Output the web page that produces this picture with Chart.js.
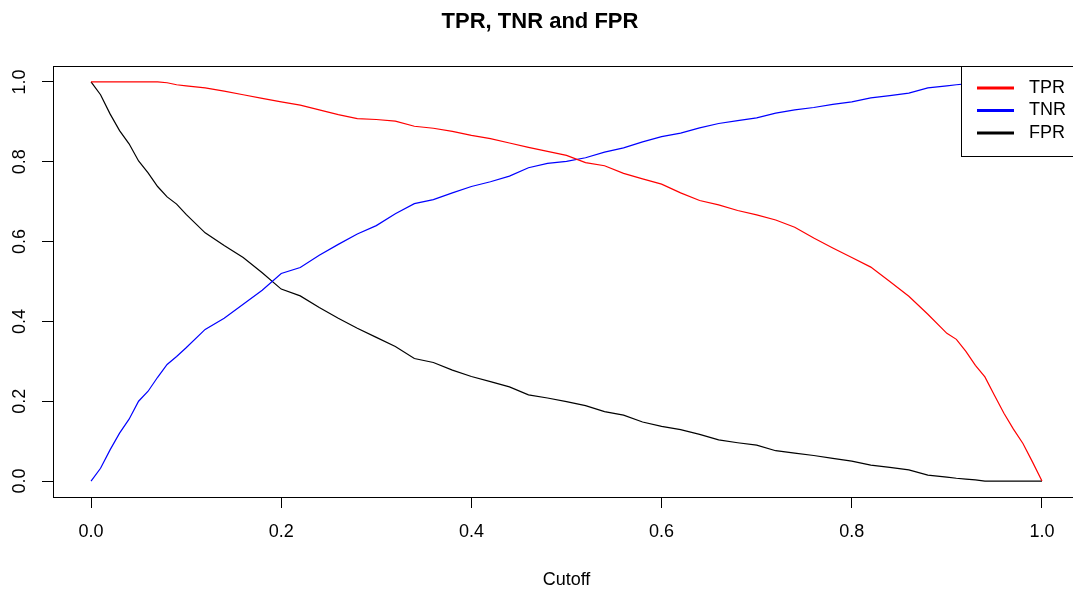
<!DOCTYPE html>
<html>
<head>
<meta charset="utf-8">
<title>TPR, TNR and FPR</title>
<script src="https://cdn.jsdelivr.net/npm/chart.js@4.4.1/dist/chart.umd.min.js"></script>
<style>
  html, body { margin: 0; padding: 0; background: #fff; overflow: hidden; }
  #wrap { width: 1073px; height: 591px; overflow: hidden; }
</style>
</head>
<body>
<div id="wrap"><canvas id="myChart" width="1080" height="591"></canvas></div>
<script>
// cutoff values and the three rates
const cutoff = [0, 0.01, 0.02, 0.03, 0.04, 0.05, 0.06, 0.07, 0.08, 0.09,
  0.10, 0.12, 0.14, 0.16, 0.18, 0.20, 0.22, 0.24, 0.26, 0.28,
  0.30, 0.32, 0.34, 0.36, 0.38, 0.40, 0.42, 0.44, 0.46, 0.48,
  0.50, 0.52, 0.54, 0.56, 0.58, 0.60, 0.62, 0.64, 0.66, 0.68,
  0.70, 0.72, 0.74, 0.76, 0.78, 0.80, 0.82, 0.84, 0.86, 0.88,
  0.90, 0.91, 0.92, 0.93, 0.94, 0.95, 0.96, 0.97, 0.98, 0.99, 1.00]

const tpr = [1, 1, 1, 1, 1, 1, 1, 1, 0.998, 0.993,
  0.990, 0.985, 0.977, 0.968, 0.959, 0.950, 0.942, 0.930, 0.918, 0.908,
  0.906, 0.902, 0.889, 0.884, 0.876, 0.866, 0.858, 0.847, 0.836, 0.826,
  0.816, 0.798, 0.790, 0.771, 0.757, 0.744, 0.722, 0.703, 0.692, 0.678,
  0.667, 0.654, 0.636, 0.609, 0.584, 0.560, 0.536, 0.500, 0.463, 0.418,
  0.370, 0.355, 0.325, 0.290, 0.261, 0.215, 0.170, 0.130, 0.094, 0.048, 0]

const tnr = [0, 0.032, 0.078, 0.120, 0.155, 0.200, 0.225, 0.260, 0.292, 0.312,
  0.334, 0.380, 0.408, 0.443, 0.478, 0.520, 0.535, 0.566, 0.593, 0.619,
  0.640, 0.670, 0.695, 0.705, 0.722, 0.738, 0.750, 0.764, 0.785, 0.796,
  0.801, 0.810, 0.824, 0.835, 0.850, 0.863, 0.872, 0.885, 0.896, 0.903,
  0.910, 0.922, 0.930, 0.936, 0.944, 0.950, 0.960, 0.966, 0.972, 0.985,
  0.990, 0.993, 0.995, 0.997, 1, 1, 1, 1, 1, 1, 1]

const fpr = [1, 0.968, 0.920, 0.878, 0.845, 0.802, 0.772, 0.738, 0.712, 0.694,
  0.668, 0.622, 0.590, 0.560, 0.522, 0.481, 0.464, 0.435, 0.408, 0.383,
  0.360, 0.337, 0.307, 0.297, 0.278, 0.262, 0.249, 0.236, 0.216, 0.208,
  0.199, 0.189, 0.174, 0.165, 0.148, 0.137, 0.129, 0.117, 0.103, 0.096,
  0.090, 0.076, 0.070, 0.064, 0.057, 0.050, 0.040, 0.034, 0.028, 0.015,
  0.010, 0.007, 0.005, 0.003, 0, 0, 0, 0, 0, 0, 0]

const xTicks = [0, 0.2, 0.4, 0.6, 0.8, 1.0]
const yTicks = [0, 0.2, 0.4, 0.6, 0.8, 1.0]
const seriesNames = ['TPR', 'TNR', 'FPR']
const seriesColors = ['#ff0000', '#0000ff', '#000000']

Chart.defaults.font.family = '"Liberation Sans", Arial, sans-serif'
Chart.defaults.color = '#000'

function points(values) {
  return cutoff.map((c, i) => ({x: c, y: values[i]}))
}

// box around the plot region, like R's bty = "o"
const plotBox = {
  id: 'plotBox',
  afterDatasetsDraw(chart) {
    const {ctx, chartArea} = chart
    ctx.save()
    ctx.strokeStyle = '#000'
    ctx.lineWidth = 1
    ctx.strokeRect(chartArea.left + 0.5, chartArea.top + 0.5,
      chartArea.right - chartArea.left - 1, chartArea.bottom - chartArea.top)
    ctx.restore()
  }
}

// legend box in the top right corner of the plot
const boxLegend = {
  id: 'boxLegend',
  afterDraw(chart) {
    const {ctx, chartArea} = chart
    const w = 119, h = 90
    const left = chartArea.right - w
    const top = chartArea.top
    ctx.save()
    ctx.fillStyle = '#fff'
    ctx.fillRect(left, top, w, h)
    ctx.strokeStyle = '#000'
    ctx.lineWidth = 1
    ctx.strokeRect(left + 0.5, top + 0.5, w, h)
    ctx.font = '18px "Liberation Sans", Arial, sans-serif'
    ctx.textBaseline = 'middle'
    chart.data.datasets.forEach((ds, i) => {
      const y = top + 22 + i * 22.5
      ctx.strokeStyle = ds.borderColor
      ctx.lineWidth = 3
      ctx.beginPath()
      ctx.moveTo(left + 16, y)
      ctx.lineTo(left + 53, y)
      ctx.stroke()
      ctx.fillStyle = '#000'
      ctx.fillText(ds.label, left + 68, y)
    })
    ctx.restore()
  }
}

const canvas = document.getElementById('myChart')

const config = {
  type: 'line',
  data: {
    datasets: [tpr, tnr, fpr].map((vals, i) => ({
      label: seriesNames[i],
      data: points(vals),
      borderColor: seriesColors[i],
      backgroundColor: seriesColors[i],
      borderWidth: 1.2,
      pointRadius: 0,
      tension: 0,
      fill: false
    }))
  },
  options: {
    responsive: false,
    animation: false,
    layout: { padding: 0 },
    plugins: {
      legend: { display: false },
      tooltip: { enabled: false },
      title: {
        display: true,
        text: 'TPR, TNR and FPR',
        color: '#000',
        font: { size: 22, weight: 'bold' },
        padding: { top: 9, bottom: 30.6 }
      }
    },
    scales: {
      x: {
        type: 'linear',
        min: -0.04,
        max: 1.04,
        afterBuildTicks: s => { s.ticks = xTicks.map(v => ({value: v})) },
        afterFit: s => { s.height = 94 },
        ticks: { padding: 13, font: { size: 18 }, color: '#000', callback: v => v.toFixed(1) },
        grid: { drawOnChartArea: false, tickLength: 11, color: '#000' },
        border: { display: false },
        title: { display: true, text: 'Cutoff', font: { size: 18 }, color: '#000', padding: { top: 0, bottom: 0 } }
      },
      y: {
        type: 'linear',
        min: -0.04,
        max: 1.04,
        afterBuildTicks: s => { s.ticks = yTicks.map(v => ({value: v})) },
        afterFit: s => { s.width = 53 },
        ticks: {
          minRotation: 90, maxRotation: 90, crossAlign: 'center',
          padding: 9, font: { size: 18 }, color: '#000',
          callback: v => v.toFixed(1)
        },
        grid: { drawOnChartArea: false, tickLength: 11, color: '#000' },
        border: { display: false }
      }
    }
  },
  plugins: [plotBox, boxLegend]
}

const myChart = new Chart(canvas, config)
</script>
</body>
</html>
